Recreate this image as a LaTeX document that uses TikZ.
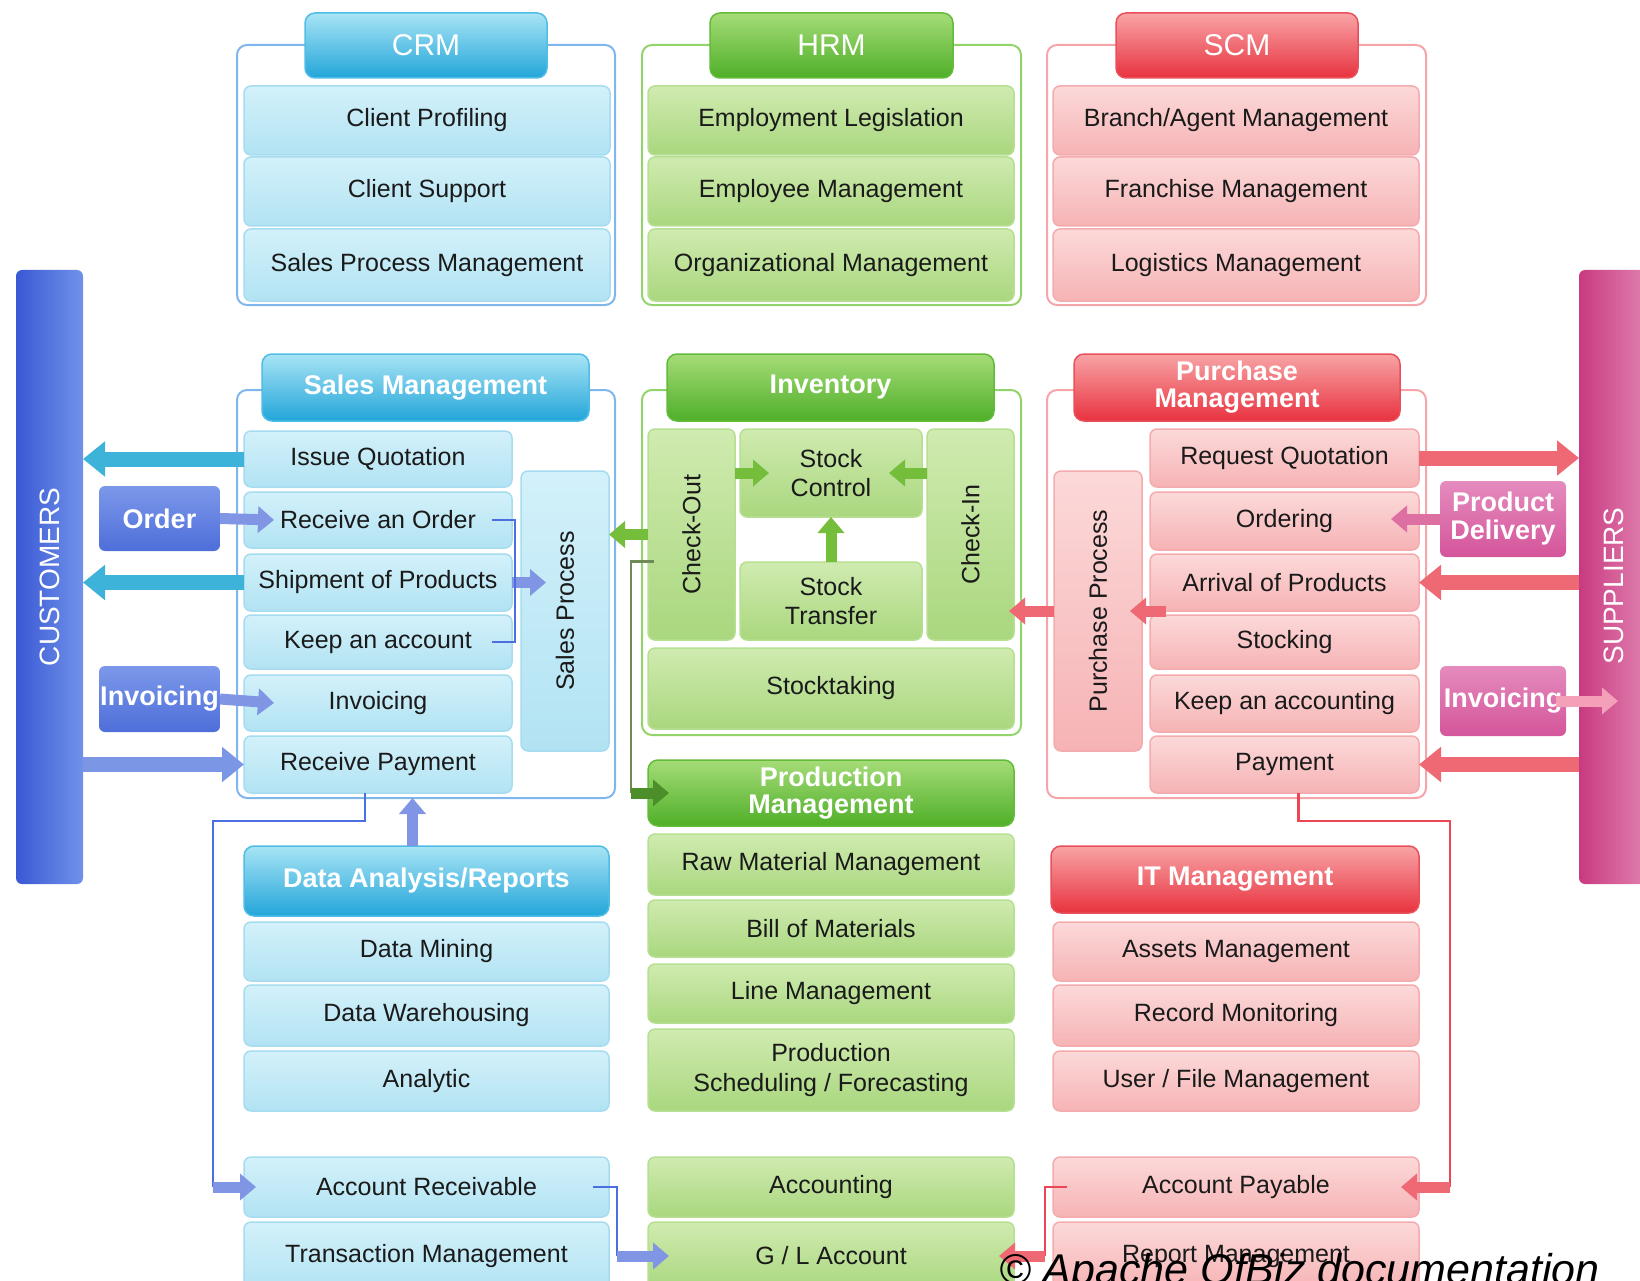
\documentclass[tikz,border=0pt]{standalone}
\usepackage{fontspec}
\setmainfont{Liberation Sans}
\usetikzlibrary{arrows.meta,calc}
\definecolor{cIT}{HTML}{D3F1FA}\definecolor{cIB}{HTML}{B2E3F3}\definecolor{cID}{HTML}{A6DCEF}
\definecolor{cTT}{HTML}{A8E4F5}\definecolor{cTB}{HTML}{22A5D9}\definecolor{cTD}{HTML}{4FBDE6}\definecolor{cFr}{HTML}{7FB6EC}
\definecolor{gIT}{HTML}{D0EBB0}\definecolor{gIB}{HTML}{A9D77E}\definecolor{gID}{HTML}{B7DF92}
\definecolor{gTT}{HTML}{A5DC78}\definecolor{gTB}{HTML}{4FAF28}\definecolor{gTD}{HTML}{62BC3A}\definecolor{gFr}{HTML}{92D46A}
\definecolor{rIT}{HTML}{FCD9D9}\definecolor{rIB}{HTML}{F6B3B5}\definecolor{rID}{HTML}{F4ABAE}
\definecolor{rTT}{HTML}{F8A4A6}\definecolor{rTB}{HTML}{E8323F}\definecolor{rTD}{HTML}{E9505A}\definecolor{rFr}{HTML}{F5A4A9}
\definecolor{custL}{HTML}{3A58D4}\definecolor{custR}{HTML}{7092EA}
\definecolor{supL}{HTML}{C93A80}\definecolor{supR}{HTML}{E590BA}
\definecolor{bbT}{HTML}{7C98EA}\definecolor{bbB}{HTML}{4E6ED9}
\definecolor{pbT}{HTML}{E58BBE}\definecolor{pbB}{HTML}{D4559A}
\definecolor{aTeal}{HTML}{3DB3D9}\definecolor{aBlue}{HTML}{8095E3}\definecolor{aPay}{HTML}{7C96E6}
\definecolor{aGreen}{HTML}{74BE3C}\definecolor{aDkG}{HTML}{4C8F2A}\definecolor{aRed}{HTML}{EE6973}
\definecolor{aPink}{HTML}{DE6FA3}\definecolor{aLPink}{HTML}{F4A0B8}
\definecolor{lnB}{HTML}{4C6FE0}\definecolor{lnR}{HTML}{EA4654}\definecolor{lnG}{HTML}{6F8B55}
\definecolor{txt}{HTML}{1A1A1A}
\newcommand{\itemfont}{\fontsize{25}{29.5}\selectfont}
\newcommand{\tabfont}{\fontsize{27}{27}\selectfont\bfseries}
\newcommand{\mybox}[7]{\node[#1, minimum width={#4-#2}, minimum height={#5-#3}] (#6) at ({(#2+#4)/2},{(#3+#5)/2}) {#7};}
\begin{document}
\begin{tikzpicture}[x=1pt,y=-1pt,
  base/.style={inner sep=0pt, outer sep=0pt, rounded corners=7pt, align=center, text=txt},
  itemC/.style={base, draw=cID, line width=1.5pt, top color=cIT, bottom color=cIB, font=\itemfont},
  itemG/.style={base, draw=gID, line width=1.5pt, top color=gIT, bottom color=gIB, font=\itemfont},
  itemR/.style={base, draw=rID, line width=1.5pt, top color=rIT, bottom color=rIB, font=\itemfont},
  tabC/.style={base, rounded corners=10pt, draw=cTD, line width=1.5pt, top color=cTT, bottom color=cTB, text=white, font=\tabfont},
  tabG/.style={base, rounded corners=10pt, draw=gTD, line width=1.5pt, top color=gTT, bottom color=gTB, text=white, font=\tabfont},
  tabR/.style={base, rounded corners=10pt, draw=rTD, line width=1.5pt, top color=rTT, bottom color=rTB, text=white, font=\tabfont},
  bigfont/.style={font=\fontsize{30}{34}\selectfont},
  frameC/.style={inner sep=0pt, outer sep=0pt, draw=cFr, line width=2pt, rounded corners=10pt},
  frameG/.style={inner sep=0pt, outer sep=0pt, draw=gFr, line width=2pt, rounded corners=10pt},
  frameR/.style={inner sep=0pt, outer sep=0pt, draw=rFr, line width=2pt, rounded corners=10pt},
  custS/.style={base, rounded corners=6pt, left color=custL, right color=custR},
  supS/.style={base, rounded corners=6pt, left color=supL, right color=supR},
  boxB/.style={base, rounded corners=6pt, top color=bbT, bottom color=bbB, text=white, font=\fontsize{27}{28}\selectfont\bfseries},
  boxP/.style={base, rounded corners=6pt, top color=pbT, bottom color=pbB, text=white, font=\fontsize{27}{28}\selectfont\bfseries},
  rotlab/.style={rotate=90, font=\itemfont, text=txt, inner sep=0pt},
  barlab/.style={rotate=90, font=\fontsize{28}{28}\selectfont, text=white, inner sep=0pt},
  fat/.style={line width=15pt, -{Triangle[width=34pt,length=22pt]}},
  fats/.style={line width=11pt, -{Triangle[width=26pt,length=16pt]}},
  thinB/.style={draw=lnB, line width=2.5pt},
  thinR/.style={draw=lnR, line width=2.5pt},
  thinG/.style={draw=lnG, line width=2.5pt}
]
\useasboundingbox (0,0) rectangle (1640,1281);
% ---------- top row ----------
\mybox{frameC}{237}{45}{615}{305}{fcrm}{}
\mybox{tabC,bigfont}{305}{13}{547}{78}{tcrm}{CRM}
\mybox{itemC}{244}{86}{610}{155}{cp}{Client Profiling}
\mybox{itemC}{244}{157}{610}{226}{cs}{Client Support}
\mybox{itemC}{244}{229}{610}{301}{spm}{Sales Process Management}
\mybox{frameG}{642}{45}{1021}{305}{fhrm}{}
\mybox{tabG,bigfont}{710}{13}{953}{78}{thrm}{HRM}
\mybox{itemG}{648}{86}{1014}{155}{el}{Employment Legislation}
\mybox{itemG}{648}{157}{1014}{226}{emp}{Employee Management}
\mybox{itemG}{648}{229}{1014}{301}{om}{Organizational Management}
\mybox{frameR}{1047}{45}{1426}{305}{fscm}{}
\mybox{tabR,bigfont}{1116}{13}{1358}{78}{tscm}{SCM}
\mybox{itemR}{1053}{86}{1419}{155}{bam}{Branch/Agent Management}
\mybox{itemR}{1053}{157}{1419}{226}{fm}{Franchise Management}
\mybox{itemR}{1053}{229}{1419}{301}{lgm}{Logistics Management}
% ---------- side bars ----------
\mybox{custS}{16}{270}{83}{884}{cust}{}
\node[barlab] (lcust) at (cust.center) {CUSTOMERS};
\mybox{supS}{1579}{270}{1662}{884}{sup}{}
\node[barlab] (lsup) at (1614,586) {SUPPLIERS};
% ---------- sales ----------
\mybox{frameC}{237}{390}{615}{798}{fsales}{}
\mybox{tabC}{262}{354}{589}{421}{tsales}{Sales Management}
\mybox{itemC}{244}{431}{512}{487}{iq}{Issue Quotation}
\mybox{itemC}{244}{492}{512}{548}{ro}{Receive an Order}
\mybox{itemC}{244}{554}{512}{611}{sh}{Shipment of Products}
\mybox{itemC}{244}{615}{512}{669}{ka}{Keep an account}
\mybox{itemC}{244}{675}{512}{731}{inv}{Invoicing}
\mybox{itemC}{244}{736}{512}{793}{rp}{Receive Payment}
\mybox{itemC}{521}{471}{609}{751}{sp}{}
\node[rotlab] (lsp) at (sp.center) {Sales Process};
\mybox{boxB}{99}{486}{220}{551}{order}{Order}
\mybox{boxB}{99}{666}{220}{732}{invl}{Invoicing}
% ---------- inventory ----------
\mybox{frameG}{642}{390}{1021}{735}{finv}{}
\mybox{tabG}{667}{354}{994}{421}{tinv}{Inventory}
\mybox{itemG}{648}{429}{735}{640}{co}{}
\node[rotlab] (lco) at (co.center) {Check-Out};
\mybox{itemG}{740}{429}{922}{517}{sc}{Stock\\Control}
\mybox{itemG}{740}{562}{922}{640}{st}{Stock\\Transfer}
\mybox{itemG}{927}{429}{1014}{640}{ci}{}
\node[rotlab] (lci) at (ci.center) {Check-In};
\mybox{itemG}{648}{648}{1014}{729}{stk}{Stocktaking}
% ---------- production ----------
\mybox{tabG}{648}{760}{1014}{826}{pm}{Production\\Management}
\mybox{itemG}{648}{834}{1014}{895}{rmm}{Raw Material Management}
\mybox{itemG}{648}{900}{1014}{957}{bom}{Bill of Materials}
\mybox{itemG}{648}{964}{1014}{1023}{lm}{Line Management}
\mybox{itemG}{648}{1029}{1014}{1111}{ps}{Production\\Scheduling / Forecasting}
% ---------- purchase ----------
\mybox{frameR}{1047}{390}{1426}{798}{fpur}{}
\mybox{tabR}{1074}{354}{1400}{421}{tpur}{Purchase\\Management}
\mybox{itemR}{1150}{429}{1419}{487}{rq}{Request Quotation}
\mybox{itemR}{1150}{492}{1419}{550}{ord}{Ordering}
\mybox{itemR}{1150}{554}{1419}{611}{arr}{Arrival of Products}
\mybox{itemR}{1150}{615}{1419}{669}{stg}{Stocking}
\mybox{itemR}{1150}{675}{1419}{732}{kac}{Keep an accounting}
\mybox{itemR}{1150}{736}{1419}{793}{pay}{Payment}
\mybox{itemR}{1054}{471}{1142}{751}{pp}{}
\node[rotlab] (lpp) at (pp.center) {Purchase Process};
\mybox{boxP}{1440}{481}{1566}{557}{pd}{Product\\Delivery}
\mybox{boxP}{1440}{666}{1566}{736}{invr}{Invoicing}
% ---------- data analysis ----------
\mybox{tabC}{244}{846}{609}{916}{tda}{Data Analysis/Reports}
\mybox{itemC}{244}{922}{609}{981}{dm}{Data Mining}
\mybox{itemC}{244}{985}{609}{1046}{dw}{Data Warehousing}
\mybox{itemC}{244}{1051}{609}{1111}{an}{Analytic}
% ---------- IT ----------
\mybox{tabR}{1051}{846}{1419}{913}{tit}{IT Management}
\mybox{itemR}{1053}{922}{1419}{981}{am}{Assets Management}
\mybox{itemR}{1053}{985}{1419}{1046}{rmo}{Record Monitoring}
\mybox{itemR}{1053}{1051}{1419}{1111}{ufm}{User / File Management}
% ---------- accounting ----------
\mybox{itemC}{244}{1157}{609}{1217}{ar}{Account Receivable}
\mybox{itemC}{244}{1222}{609}{1290}{tm}{Transaction Management}
\mybox{itemG}{648}{1157}{1014}{1217}{acc}{Accounting}
\mybox{itemG}{648}{1222}{1014}{1290}{gl}{G / L Account}
\mybox{itemR}{1053}{1157}{1419}{1217}{ap}{Account Payable}
\mybox{itemR}{1053}{1222}{1419}{1290}{rmg}{Report Management}
% ---------- fat arrows ----------
\draw[fat, aTeal] (iq.west) -- (iq.west -| cust.east);
\draw[fat, aTeal] (sh.west) -- (sh.west -| cust.east);
\draw[fat, aPay] (rp.west -| cust.east) -- (rp.west);
\draw[fats, aBlue] (order.east) -- ([xshift=30pt]ro.west);
\draw[fats, aBlue] (invl.east) -- ([xshift=30pt]inv.west);
\draw[fats, aBlue] (sh.east) -- ([xshift=25pt]sp.west |- sh.east);
\draw[thinB] ([xshift=-20pt]ro.east) -- ([xshift=3pt]ro.east) |- ([xshift=-20pt]ka.east);
\draw[fats, aBlue] ([xshift=-14pt]tda.north) -- ([xshift=-14pt]tda.north |- fsales.south);
\coordinate (k9) at (213,821);
\draw[thinB] ([xshift=-13pt]rp.south) |- (k9) -- (k9 |- ar.west);
\draw[fats, aBlue] (k9 |- ar.west) -- ([xshift=12pt]ar.west);
\coordinate (k10) at (617,1187);
\draw[thinB] ([xshift=-16pt]ar.east) -| (k10 |- gl.west);
\draw[fats, aBlue] (k10 |- gl.west) -- ([xshift=21pt]gl.west);
% inventory arrows
\draw[fats, aGreen] (co.west) -- (co.west -| sp.east);
\coordinate (k12) at (631,700);
\draw[thinG] ([xshift=6pt,yshift=-27pt]co.west) -| (k12 |- pm.west);
\draw[fats, aDkG] (k12 |- pm.west) -- ([xshift=21pt]pm.west);
\draw[fats, aGreen] (sc.west -| co.east) -- ([xshift=29pt]sc.west);
\draw[fats, aGreen] (sc.east -| ci.west) -- ([xshift=-33pt]sc.east);
\draw[fats, aGreen] (st.north) -- (sc.south);
% purchase arrows
\draw[fats, aRed] (pp.west) -- ([xshift=-5pt]pp.west -| ci.east);
\draw[fats, aRed] ([xshift=16pt]arr.south west) -- ([xshift=-12pt]pp.east);
\draw[fat, aRed] (rq.east) -- (rq.east -| sup.west);
\draw[fats, aPink] (pd.west) -- ([xshift=-28pt]pd.west -| ord.east);
\draw[fat, aRed] (arr.east -| sup.west) -- (arr.east);
\draw[fats, aLPink] ([xshift=-10pt]invr.east) -- ([xshift=52pt]invr.east);
\draw[fat, aRed] (pay.east -| sup.west) -- (pay.east);
\coordinate (k23) at (1450,821);
\draw[thinR] ([xshift=14pt]pay.south) |- (k23) -- (k23 |- ap.east);
\draw[fats, aRed] (k23 |- ap.east) -- ([xshift=-18pt]ap.east);
\coordinate (k24) at (1045,1187);
\draw[thinR] ([xshift=14pt]ap.west) -| (k24 |- gl.east);
\draw[fats, aRed] (k24 |- gl.east) -- ([xshift=-15pt]gl.east);
% ---------- credit ----------
\node[anchor=base west, inner sep=0pt, font=\fontsize{43}{43}\selectfont\itshape] (copy) at (999,1284) {© Apache OfBiz documentation};
\end{tikzpicture}
\end{document}
